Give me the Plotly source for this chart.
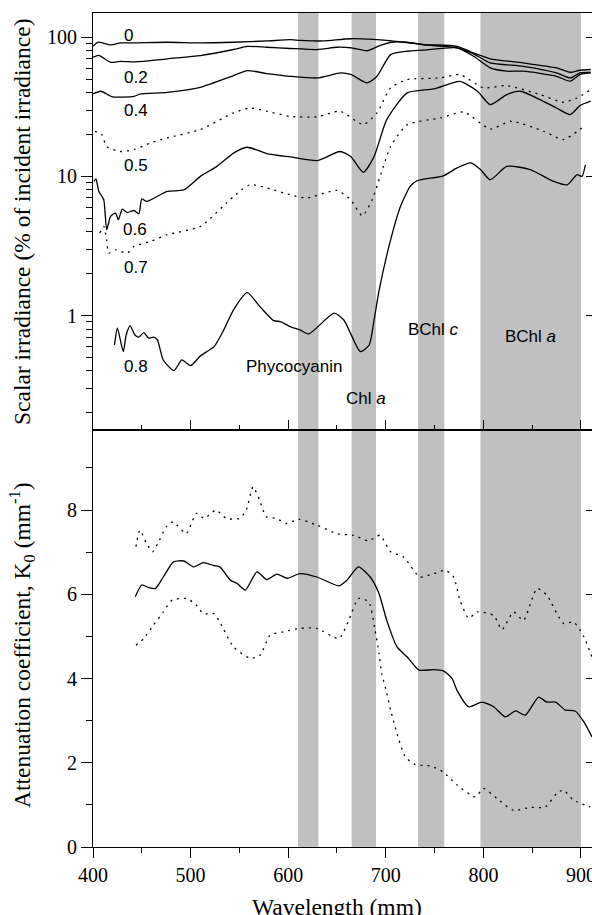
import plotly.graph_objects as go

# ---------------- data ----------------
wl_d0 = [400, 405, 418, 428, 442, 476, 510, 544, 578, 602, 612, 636, 664, 701, 739, 773, 790, 807, 841, 875, 889, 899, 910]
irr_d0 = [86, 92, 88, 91, 91, 92, 91, 92, 94, 96, 95, 94, 97.5, 95, 88.6, 86.1, 77, 70, 65.4, 60.2, 56, 57.9, 58.6]

wl_d02 = [400, 406, 418, 428, 442, 452, 476, 510, 544, 558, 578, 602, 630, 650, 664, 681, 692, 705, 722, 739, 773, 790, 807, 841, 875, 889, 899, 910]
irr_d02 = [72, 74, 66, 67, 66.5, 67, 70, 73.8, 81.6, 86, 84.7, 83, 81.6, 84.7, 84, 80, 86, 92, 92, 88, 84, 76, 65.4, 61.8, 55.4, 51, 55.4, 56]

wl_d04 = [400, 408, 420, 442, 448, 476, 510, 544, 558, 578, 602, 630, 654, 664, 681, 691, 705, 722, 739, 773, 790, 807, 824, 841, 875, 889, 899, 910]
irr_d04 = [39.2, 40.9, 37.3, 37.6, 39, 40.2, 43.7, 53, 57.6, 54.8, 52.4, 51, 55.4, 54, 47, 52.4, 75, 79.3, 80.7, 83.9, 73, 60.2, 57, 57, 52.4, 48.3, 53.9, 55.4]

wl_d05 = [402, 406, 409, 414, 428, 442, 459, 476, 510, 544, 561, 578, 602, 630, 653, 677, 691, 705, 722, 756, 776, 800, 824, 858, 882, 896, 910]
irr_d05 = [21.1, 20.5, 20.0, 16.4, 15.1, 15.6, 17.4, 18.9, 21.7, 28.6, 31.0, 29.4, 27, 26.8, 29.4, 23.6, 28.6, 43.3, 49.6, 51, 53.9, 43.3, 44.9, 38.7, 34.1, 36.6, 42.1]

wl_d06 = [401, 403, 406, 411, 414, 418, 423, 426, 430, 435, 442, 447, 450, 455, 476, 493, 510, 527, 544, 558, 578, 602, 630, 653, 664, 677, 688, 701, 722, 749, 776, 794, 807, 824, 838, 858, 875, 889, 899, 910]
irr_d06 = [9.2, 9.6, 7.8, 6.8, 4.14, 5.16, 5.45, 4.89, 5.82, 5.5, 5.69, 5.39, 6.9, 6.61, 7.8, 8.0, 10.0, 11.8, 14.7, 16.2, 14.6, 13.8, 13.0, 15.1, 13.9, 10.7, 13.9, 25.6, 39.8, 42.5, 48.2, 40.9, 32.8, 38.7, 40.9, 35.6, 31.0, 27.8, 32.3, 34.7]

wl_d07 = [407, 411, 414, 416, 423, 435, 442, 459, 476, 510, 544, 561, 578, 602, 619, 650, 664, 676, 686, 705, 722, 756, 780, 807, 828, 862, 882, 903]
irr_d07 = [3.92, 4.37, 3.51, 2.81, 2.97, 2.81, 3.14, 3.41, 3.81, 4.37, 7.18, 8.71, 8.25, 7.38, 7.0, 7.93, 6.79, 5.21, 6.79, 16.4, 23.5, 26.3, 29.0, 21.9, 24.9, 21.1, 18.4, 22.9]

wl_d08 = [422, 425, 431, 434, 438, 443, 447, 452, 457, 462, 466, 472, 483, 491, 500, 510, 524, 534, 544, 558, 571, 585, 592, 602, 612, 621, 647, 657, 674, 683, 688, 693, 705, 715, 725, 732, 759, 773, 787, 797, 807, 824, 848, 872, 886, 896, 901, 904.5]
irr_d08 = [0.615, 0.811, 0.551, 0.726, 0.843, 0.726, 0.70, 0.755, 0.688, 0.70, 0.668, 0.480, 0.402, 0.48, 0.437, 0.513, 0.598, 0.789, 1.10, 1.46, 1.16, 0.92, 0.905, 0.834, 0.79, 0.738, 1.04, 0.93, 0.551, 0.615, 0.93, 1.5, 3.51, 6.08, 8.47, 9.31, 10.1, 11.5, 12.5, 11.2, 9.46, 11.8, 11.2, 9.2, 8.7, 10.3, 10.0, 12.1]

depth_labels = ["0", "0.2", "0.4", "0.5", "0.6", "0.7", "0.8"]

wl_k = [443.3, 450, 457, 464, 472, 482.5, 493, 503, 513, 524, 530, 541, 547.5, 556, 568, 578, 588.5, 599, 612, 629.5, 652, 660, 672, 684, 693, 701, 711.5, 722, 734, 749, 759, 768, 773, 785, 798.5, 810.5, 822.5, 833, 843, 856.6, 865, 874, 884, 894, 903, 911.3]
k_mean = [5.94, 6.22, 6.16, 6.14, 6.41, 6.77, 6.79, 6.65, 6.75, 6.68, 6.65, 6.33, 6.26, 6.10, 6.53, 6.35, 6.48, 6.38, 6.49, 6.41, 6.20, 6.33, 6.65, 6.41, 6.02, 5.38, 4.75, 4.51, 4.20, 4.21, 4.18, 4.0, 3.72, 3.33, 3.44, 3.33, 3.09, 3.23, 3.13, 3.56, 3.44, 3.44, 3.25, 3.23, 2.97, 2.61]

wl_k_hi = [444, 448, 455, 461, 468, 475, 482, 495.5, 506, 514, 526, 536.5, 550, 557, 564, 570.6, 577.5, 588, 598, 611, 629.5, 650, 667, 682.5, 694, 705, 718, 735, 749, 761, 769.5, 776, 785, 793.5, 810.5, 819, 831, 841, 855, 865, 882, 892.5, 903, 911.3]
k_hi = [7.13, 7.52, 7.2, 7.01, 7.28, 7.60, 7.72, 7.44, 7.92, 7.80, 8.0, 7.80, 7.80, 8.0, 8.55, 8.24, 7.84, 7.80, 7.68, 7.78, 7.64, 7.44, 7.40, 7.27, 7.40, 7.01, 6.89, 6.41, 6.49, 6.57, 6.41, 5.86, 5.43, 5.58, 5.50, 5.16, 5.58, 5.38, 6.14, 5.98, 5.31, 5.34, 4.99, 4.51]

wl_k_lo = [444, 452, 462, 472, 481, 496, 506, 513, 524, 530, 544, 561, 571, 581.5, 595, 612, 629.5, 652, 662, 672, 682.5, 689, 693, 696, 700, 705, 711.5, 720, 730, 746, 759, 773, 792, 800, 814, 831, 848, 863.5, 875, 882, 892.5, 909.6]
k_lo = [4.79, 4.95, 5.27, 5.58, 5.86, 5.90, 5.74, 5.54, 5.54, 5.34, 4.75, 4.48, 4.55, 5.03, 5.11, 5.19, 5.19, 4.95, 5.38, 5.90, 5.82, 5.15, 4.6, 4.1, 3.75, 3.25, 2.69, 2.14, 1.96, 1.92, 1.78, 1.47, 1.19, 1.39, 1.15, 0.87, 0.94, 0.95, 1.27, 1.35, 1.11, 0.95]

bands = [(610, 631), (665, 690), (733, 760), (797, 900)]
band_labels = ["Phycocyanin", "Chl <i>a</i>", "BChl <i>c</i>", "BChl <i>a</i>"]

# ---------------- figure ----------------
SERIF = "Liberation Serif"
SANS = "Liberation Sans"
DOT = "2px,5px"

fig = go.Figure()

series = [
    (wl_d0, irr_d0, "solid"), (wl_d02, irr_d02, "solid"), (wl_d04, irr_d04, "solid"),
    (wl_d05, irr_d05, DOT), (wl_d06, irr_d06, "solid"), (wl_d07, irr_d07, DOT),
    (wl_d08, irr_d08, "solid"),
]
for (xs, ys, dash), name in zip(series, depth_labels):
    fig.add_trace(go.Scatter(x=xs, y=ys, mode="lines", name=name, xaxis="x", yaxis="y",
                             line=dict(color="black", width=1.3, dash=dash, shape="spline", smoothing=0.6),
                             showlegend=False, hoverinfo="skip"))

for xs, ys, dash in [(wl_k, k_mean, "solid"), (wl_k_hi, k_hi, DOT), (wl_k_lo, k_lo, DOT)]:
    fig.add_trace(go.Scatter(x=xs, y=ys, mode="lines", xaxis="x2", yaxis="y2",
                             line=dict(color="black", width=1.3, dash=dash, shape="spline", smoothing=0.6),
                             showlegend=False, hoverinfo="skip"))

# helper traces for right-side tick axes
fig.add_trace(go.Scatter(x=[None], y=[None], xaxis="x", yaxis="y3", showlegend=False))
fig.add_trace(go.Scatter(x=[None], y=[None], xaxis="x2", yaxis="y4", showlegend=False))

for b0, b1 in bands:
    fig.add_shape(type="rect", xref="x", yref="paper", x0=b0, x1=b1, y0=0, y1=1,
                  fillcolor="#c0c0c0", line=dict(width=0), layer="below")

XR = [400, 911.3]
tickfont = dict(family=SERIF, size=20, color="black")
xtv = [400, 500, 600, 700, 800, 900]
xminor = [450, 550, 650, 750, 850]

log_minor = [v * m for m in (0.1, 1, 10) for v in range(2, 10)]

fig.update_layout(
    width=592, height=915,
    margin=dict(l=93, r=0, t=13, b=68, autoexpand=False),
    paper_bgcolor="white", plot_bgcolor="rgba(0,0,0,0)",
    xaxis=dict(domain=[0, 1], anchor="y", range=XR, showline=True, linecolor="black", linewidth=1,
               mirror=True, ticks="inside", ticklen=10, tickcolor="black", tickvals=xtv,
               showticklabels=False, showgrid=False, zeroline=False, automargin=False,
               minor=dict(ticks="inside", ticklen=5, tickcolor="black", tickvals=xminor, showgrid=False)),
    xaxis2=dict(domain=[0, 1], anchor="y2", range=XR, showline=True, linecolor="black", linewidth=1,
                mirror=True, ticks="outside", ticklen=10, tickcolor="black", tickvals=xtv,
                tickfont=tickfont, showgrid=False, zeroline=False, ticklabeloverflow="allow",
                automargin=False,
                minor=dict(ticks="outside", ticklen=5, tickcolor="black", tickvals=xminor, showgrid=False)),
    yaxis=dict(domain=[0.5, 1], anchor="x", type="log", range=[-0.822, 2.174], showline=True,
               linecolor="black", linewidth=1, ticks="outside", ticklen=11, tickcolor="black",
               tickvals=[1, 10, 100], ticktext=["1", "10", "100"], tickfont=tickfont,
               showgrid=False, zeroline=False, automargin=False,
               minor=dict(ticks="outside", ticklen=6, tickcolor="black", tickvals=log_minor, showgrid=False)),
    yaxis3=dict(overlaying="y", side="right", anchor="x", type="log", range=[-0.822, 2.174],
                showline=False, ticks="inside", ticklen=6, tickcolor="black", automargin=False,
                tickvals=[1, 10, 100], showticklabels=False, showgrid=False, zeroline=False),
    yaxis2=dict(domain=[0, 0.5], anchor="x2", range=[0, 9.9], showline=True, linecolor="black",
                linewidth=1, ticks="outside", ticklen=11, tickcolor="black", automargin=False,
                tickvals=[0, 2, 4, 6, 8], tickfont=tickfont, showgrid=False, zeroline=False,
                minor=dict(ticks="outside", ticklen=6, tickcolor="black", tickvals=[1, 3, 5, 7, 9], showgrid=False)),
    yaxis4=dict(overlaying="y2", side="right", anchor="x2", range=[0, 9.9], showline=False,
                ticks="inside", ticklen=6, tickcolor="black", tickvals=[2, 4, 6, 8], automargin=False,
                showticklabels=False, showgrid=False, zeroline=False),
)

# depth labels (positions in data coordinates; log10 for the log axis)
label_pos = [(436, 2.012), (444, 1.710), (444, 1.473), (444, 1.077), (443, 0.617), (444, 0.343), (444, -0.369)]
for txt, (lx, ly) in zip(depth_labels, label_pos):
    fig.add_annotation(x=lx, y=ly, xref="x", yref="y", text=txt, showarrow=False,
                       font=dict(family=SANS, size=17, color="black"))

band_label_pos = [(605.7, -0.369), (679.5, -0.599), (749.4, -0.103), (848.6, -0.153)]
for txt, (lx, ly) in zip(band_labels, band_label_pos):
    fig.add_annotation(x=lx, y=ly, xref="x", yref="y", text=txt, showarrow=False,
                       font=dict(family=SANS, size=17, color="black"))

# axis titles
titlefont = dict(family=SERIF, size=23.5, color="black")
fig.add_annotation(x=-(93 - 22) / 499, y=(847 - 222) / 834, xref="paper", yref="paper", textangle=-90,
                   text="Scalar irradiance (% of incident irradiance)", showarrow=False,
                   xanchor="center", yanchor="middle", font=titlefont)
fig.add_annotation(x=-(93 - 22) / 499, y=(847 - 645) / 834, xref="paper", yref="paper", textangle=-90,
                   text="Attenuation coefficient, K<sub>0</sub> (mm<sup>-1</sup>)", showarrow=False,
                   xanchor="center", yanchor="middle", font=titlefont)
fig.add_annotation(x=(337 - 93) / 499, y=(847 - 892) / 834, xref="paper", yref="paper",
                   text="Wavelength (mm)", showarrow=False, xanchor="center", yanchor="top",
                   font=titlefont)

fig.write_html("out.html")
